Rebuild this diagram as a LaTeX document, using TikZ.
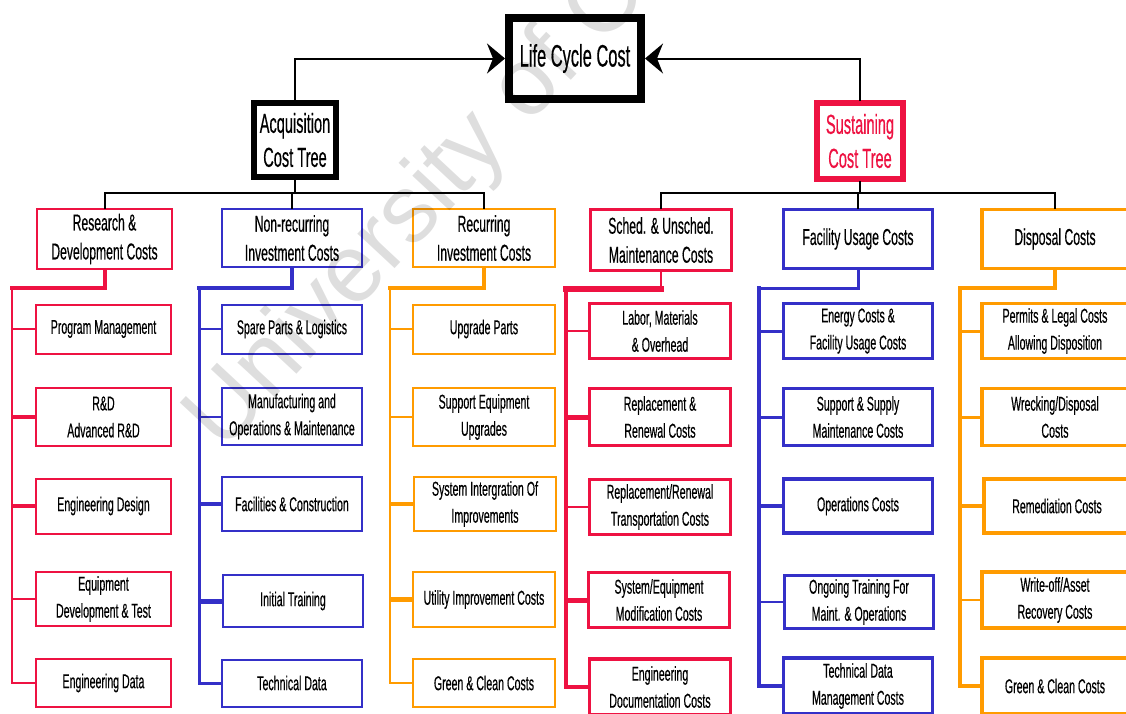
\documentclass[tikz,border=0pt]{standalone}
\usepackage{fontspec}
\setmainfont{Liberation Sans}[FakeStretch=0.53, FakeBold=0.4]
\newfontfamily\wmfont{Liberation Sans}
\usetikzlibrary{arrows.meta}
\definecolor{cred}{RGB}{238,18,66}
\definecolor{cblue}{RGB}{52,48,200}
\definecolor{corange}{RGB}{255,155,0}
\tikzset{
  tree/.style={draw, fill=white, inner sep=0pt, align=center},
  top/.style={tree, line width=8pt, font=\fontsize{31}{34}\selectfont},
  head/.style={tree, line width=6pt, font=\fontsize{27.5}{34}\selectfont},
  mid/.style={tree, font=\fontsize{23}{29}\selectfont},
  leaf/.style={tree, font=\fontsize{20}{27}\selectfont},
  link/.style={black, line width=2pt, line cap=rect},
  feed/.style={line cap=rect, line join=miter},
}
\begin{document}
\begin{tikzpicture}[x=1pt, y=-1pt]
\useasboundingbox (0,0) rectangle (1126,713);
\clip (0,0) rectangle (1126,713);
\fill[white] (0,0) rectangle (1126,713);

% root and the two cost trees
\node[top, minimum width=132pt, minimum height=81pt] (lcc) at (575,58.5) {Life Cycle Cost};
\node[head, minimum width=82pt, minimum height=74pt] (acq) at (295,140) {Acquisition\\Cost Tree};
\node[head, draw=cred, text=cred, minimum width=86pt, minimum height=76pt] (sus) at (860,141) {Sustaining\\Cost Tree};

\draw[link, -{Stealth[length=18pt, width=30pt, inset=6pt]}] (acq.north) |- (lcc.west);
\draw[link, -{Stealth[length=18pt, width=30pt, inset=6pt]}] (sus.north) |- (lcc.east);

% second level
\node[mid, draw=cred, line width=2pt, minimum width=135pt, minimum height=60pt] (rd) at (104.5,239) {Research \&\\Development Costs};
\node[mid, draw=cblue, line width=2pt, minimum width=140pt, minimum height=58pt] (nrc) at (292,238) {Non-recurring\\Investment Costs};
\node[mid, draw=corange, line width=2pt, minimum width=142pt, minimum height=58pt] (rec) at (484,238) {Recurring\\Investment Costs};
\node[mid, draw=cred, line width=3.5pt, minimum width=141pt, minimum height=61pt] (smc) at (661,240) {Sched. \& Unsched.\\Maintenance Costs};
\node[mid, draw=cblue, line width=3.5pt, minimum width=149pt, minimum height=59pt] (fuc) at (858,239) {Facility Usage Costs};
\node[mid, draw=corange, line width=3.5pt, minimum width=146pt, minimum height=59pt] (dsp) at (1055,239) {Disposal Costs};

\coordinate (abus) at (295,193);
\coordinate (sbus) at (860,193);
\draw[link] (acq.south) -- (abus);
\draw[link] (rd.north) |- (abus) -| (rec.north);
\draw[link] (nrc.north) -- (nrc.north |- abus);
\draw[link] (sus.south) -- (sbus);
\draw[link] (smc.north) |- (sbus) -| (dsp.north);
\draw[link] (fuc.north) -- (fuc.north |- sbus);

% column 1: research & development
\tikzset{c1/.style={leaf, draw=cred, line width=2pt, minimum width=135pt}}
\node[c1, minimum height=49pt] (pm)  at (103.5,329) {Program Management};
\node[c1, minimum height=58pt] (ard) at (103.5,417) {R\&D\\Advanced R\&D};
\node[c1, minimum height=55pt] (ed)  at (103.5,506) {Engineering Design};
\node[c1, minimum height=54pt] (edt) at (103.5,599) {Equipment\\Development \& Test};
\node[c1, minimum height=48pt] (edd) at (103.5,683) {Engineering Data};
\coordinate (b1) at (12,288);
\draw[feed, cred, line width=4pt] (rd.south) |- (b1);
\draw[feed, cred, line width=2pt] (b1) -- (b1 |- edd.west) -- (edd.west);
\draw[cred, line width=2pt] (b1 |- pm.west) -- (pm.west);
\draw[cred, line width=4pt] (b1 |- ard.west) -- (ard.west);
\draw[cred, line width=4pt] (b1 |- ed.west) -- (ed.west);
\draw[cred, line width=2pt] (b1 |- edt.west) -- (edt.west);

% column 2: non-recurring investment
\tikzset{c2/.style={leaf, draw=cblue, line width=2pt, minimum width=140pt}}
\node[c2, minimum height=49pt] (spl) at (292,329) {Spare Parts \& Logistics};
\node[c2, minimum height=57pt] (mom) at (292,416.5) {Manufacturing and\\Operations \& Maintenance};
\node[c2, minimum height=54pt] (fac) at (292,504) {Facilities \& Construction};
\node[c2, minimum height=52pt] (itr) at (293,601) {Initial Training};
\node[c2, minimum height=47pt] (tdt) at (292,683) {Technical Data};
\coordinate (b2) at (199,288);
\draw[feed, cblue, line width=3.5pt] (nrc.south) |- (b2);
\draw[feed, cblue, line width=3pt] (b2) -- (b2 |- tdt.west) -- (tdt.west);
\draw[cblue, line width=2.5pt] (b2 |- spl.west) -- (spl.west);
\draw[cblue, line width=2pt] (b2 |- mom.west) -- (mom.west);
\draw[cblue, line width=4pt] (b2 |- fac.west) -- (fac.west);
\draw[cblue, line width=5pt] (b2 |- itr.west) -- (itr.west);

% column 3: recurring investment
\tikzset{c3/.style={leaf, draw=corange, line width=2pt, minimum width=142pt}}
\node[c3, minimum height=49pt] (upp) at (484,329) {Upgrade Parts};
\node[c3, minimum height=58pt] (seu) at (484,417) {Support Equipment\\Upgrades};
\node[c3, minimum height=54pt] (sio) at (485,504) {System Intergration Of\\Improvements};
\node[c3, minimum height=55pt] (uic) at (484,599.5) {Utility Improvement Costs};
\node[c3, minimum height=48pt] (gc1) at (484,683) {Green \& Clean Costs};
\coordinate (b3) at (390,288);
\draw[feed, corange, line width=3.5pt] (rec.south) |- (b3);
\draw[feed, corange, line width=2.5pt] (b3) -- (b3 |- gc1.west) -- (gc1.west);
\draw[corange, line width=2pt] (b3 |- upp.west) -- (upp.west);
\draw[corange, line width=2pt] (b3 |- seu.west) -- (seu.west);
\draw[corange, line width=4pt] (b3 |- sio.west) -- (sio.west);
\draw[corange, line width=5pt] (b3 |- uic.west) -- (uic.west);

% column 4: scheduled and unscheduled maintenance
\tikzset{c4/.style={leaf, draw=cred, line width=3.5pt, minimum width=141pt}}
\node[c4, minimum height=55pt] (lmo) at (660,331) {Labor, Materials\\\& Overhead};
\node[c4, minimum height=57pt] (rrc) at (660,417) {Replacement \&\\Renewal Costs};
\node[c4, minimum height=55pt] (rtc) at (660,507) {Replacement/Renewal\\Transportation Costs};
\node[c4, minimum height=55pt] (smo) at (659,600) {System/Equipment\\Modification Costs};
\node[c4, minimum height=56pt] (edc) at (660,687) {Engineering\\Documentation Costs};
\coordinate (b4) at (566,289);
\draw[feed, cred, line width=2.5pt] (smc.south) -- (smc.south |- b4);
\draw[feed, cred, line width=6pt] (smc.south |- b4) -- (b4);
\draw[feed, cred, line width=3.5pt] (b4) -- (b4 |- edc.west) -- (edc.west);
\draw[cred, line width=2pt] (b4 |- lmo.west) -- (lmo.west);
\draw[cred, line width=5pt] (b4 |- rrc.west) -- (rrc.west);
\draw[cred, line width=2.5pt] (b4 |- rtc.west) -- (rtc.west);
\draw[cred, line width=5pt] (b4 |- smo.west) -- (smo.west);

% column 5: facility usage
\tikzset{c5/.style={leaf, draw=cblue, line width=3.5pt, minimum width=149pt}}
\node[c5, minimum height=55pt] (efu) at (858,331) {Energy Costs \&\\Facility Usage Costs};
\node[c5, minimum height=57pt] (ssm) at (858,417) {Support \& Supply\\Maintenance Costs};
\node[c5, minimum height=54pt] (opc) at (858,506) {Operations Costs};
\node[c5, minimum height=53pt] (otm) at (859,602) {Ongoing Training For\\Maint. \& Operations};
\node[c5, minimum height=56pt] (tdm) at (858,686) {Technical Data\\Management Costs};
\coordinate (b5) at (759,288);
\draw[feed, cblue, line width=3pt] (fuc.south) |- (b5);
\draw[feed, cblue, line width=4pt] (b5) -- (b5 |- tdm.west) -- (tdm.west);
\draw[cblue, line width=3pt] (b5 |- efu.west) -- (efu.west);
\draw[cblue, line width=3pt] (b5 |- ssm.west) -- (ssm.west);
\draw[cblue, line width=3.5pt] (b5 |- opc.west) -- (opc.west);
\draw[cblue, line width=2pt] (b5 |- otm.west) -- (otm.west);

% column 6: disposal
\tikzset{c6/.style={leaf, draw=corange, line width=3.5pt, minimum width=146pt}}
\node[c6, minimum height=55pt] (pla) at (1055,331) {Permits \& Legal Costs\\Allowing Disposition};
\node[c6, minimum height=57pt] (wdc) at (1055,417) {Wrecking/Disposal\\Costs};
\node[c6, minimum height=54pt] (rmc) at (1057,506) {Remediation Costs};
\node[c6, minimum height=56pt] (war) at (1055,600) {Write-off/Asset\\Recovery Costs};
\node[c6, minimum height=56pt] (gc2) at (1055,686) {Green \& Clean Costs};
\coordinate (b6) at (960,288);
\draw[feed, corange, line width=3.5pt] (dsp.south) |- (b6);
\draw[feed, corange, line width=3.5pt] (b6) -- (b6 |- gc2.west) -- (gc2.west);
\draw[corange, line width=3pt] (b6 |- pla.west) -- (pla.west);
\draw[corange, line width=3pt] (b6 |- wdc.west) -- (wdc.west);
\draw[corange, line width=3.5pt] (b6 |- rmc.west) -- (rmc.west);
\draw[corange, line width=2.5pt] (b6 |- war.west) -- (war.west);

% faint watermark across the left half
\node[rotate=47, text=black, text opacity=0.13, font=\wmfont\fontsize{96}{96}\selectfont] (wm) at (418,208) {University of C};
\end{tikzpicture}
\end{document}
